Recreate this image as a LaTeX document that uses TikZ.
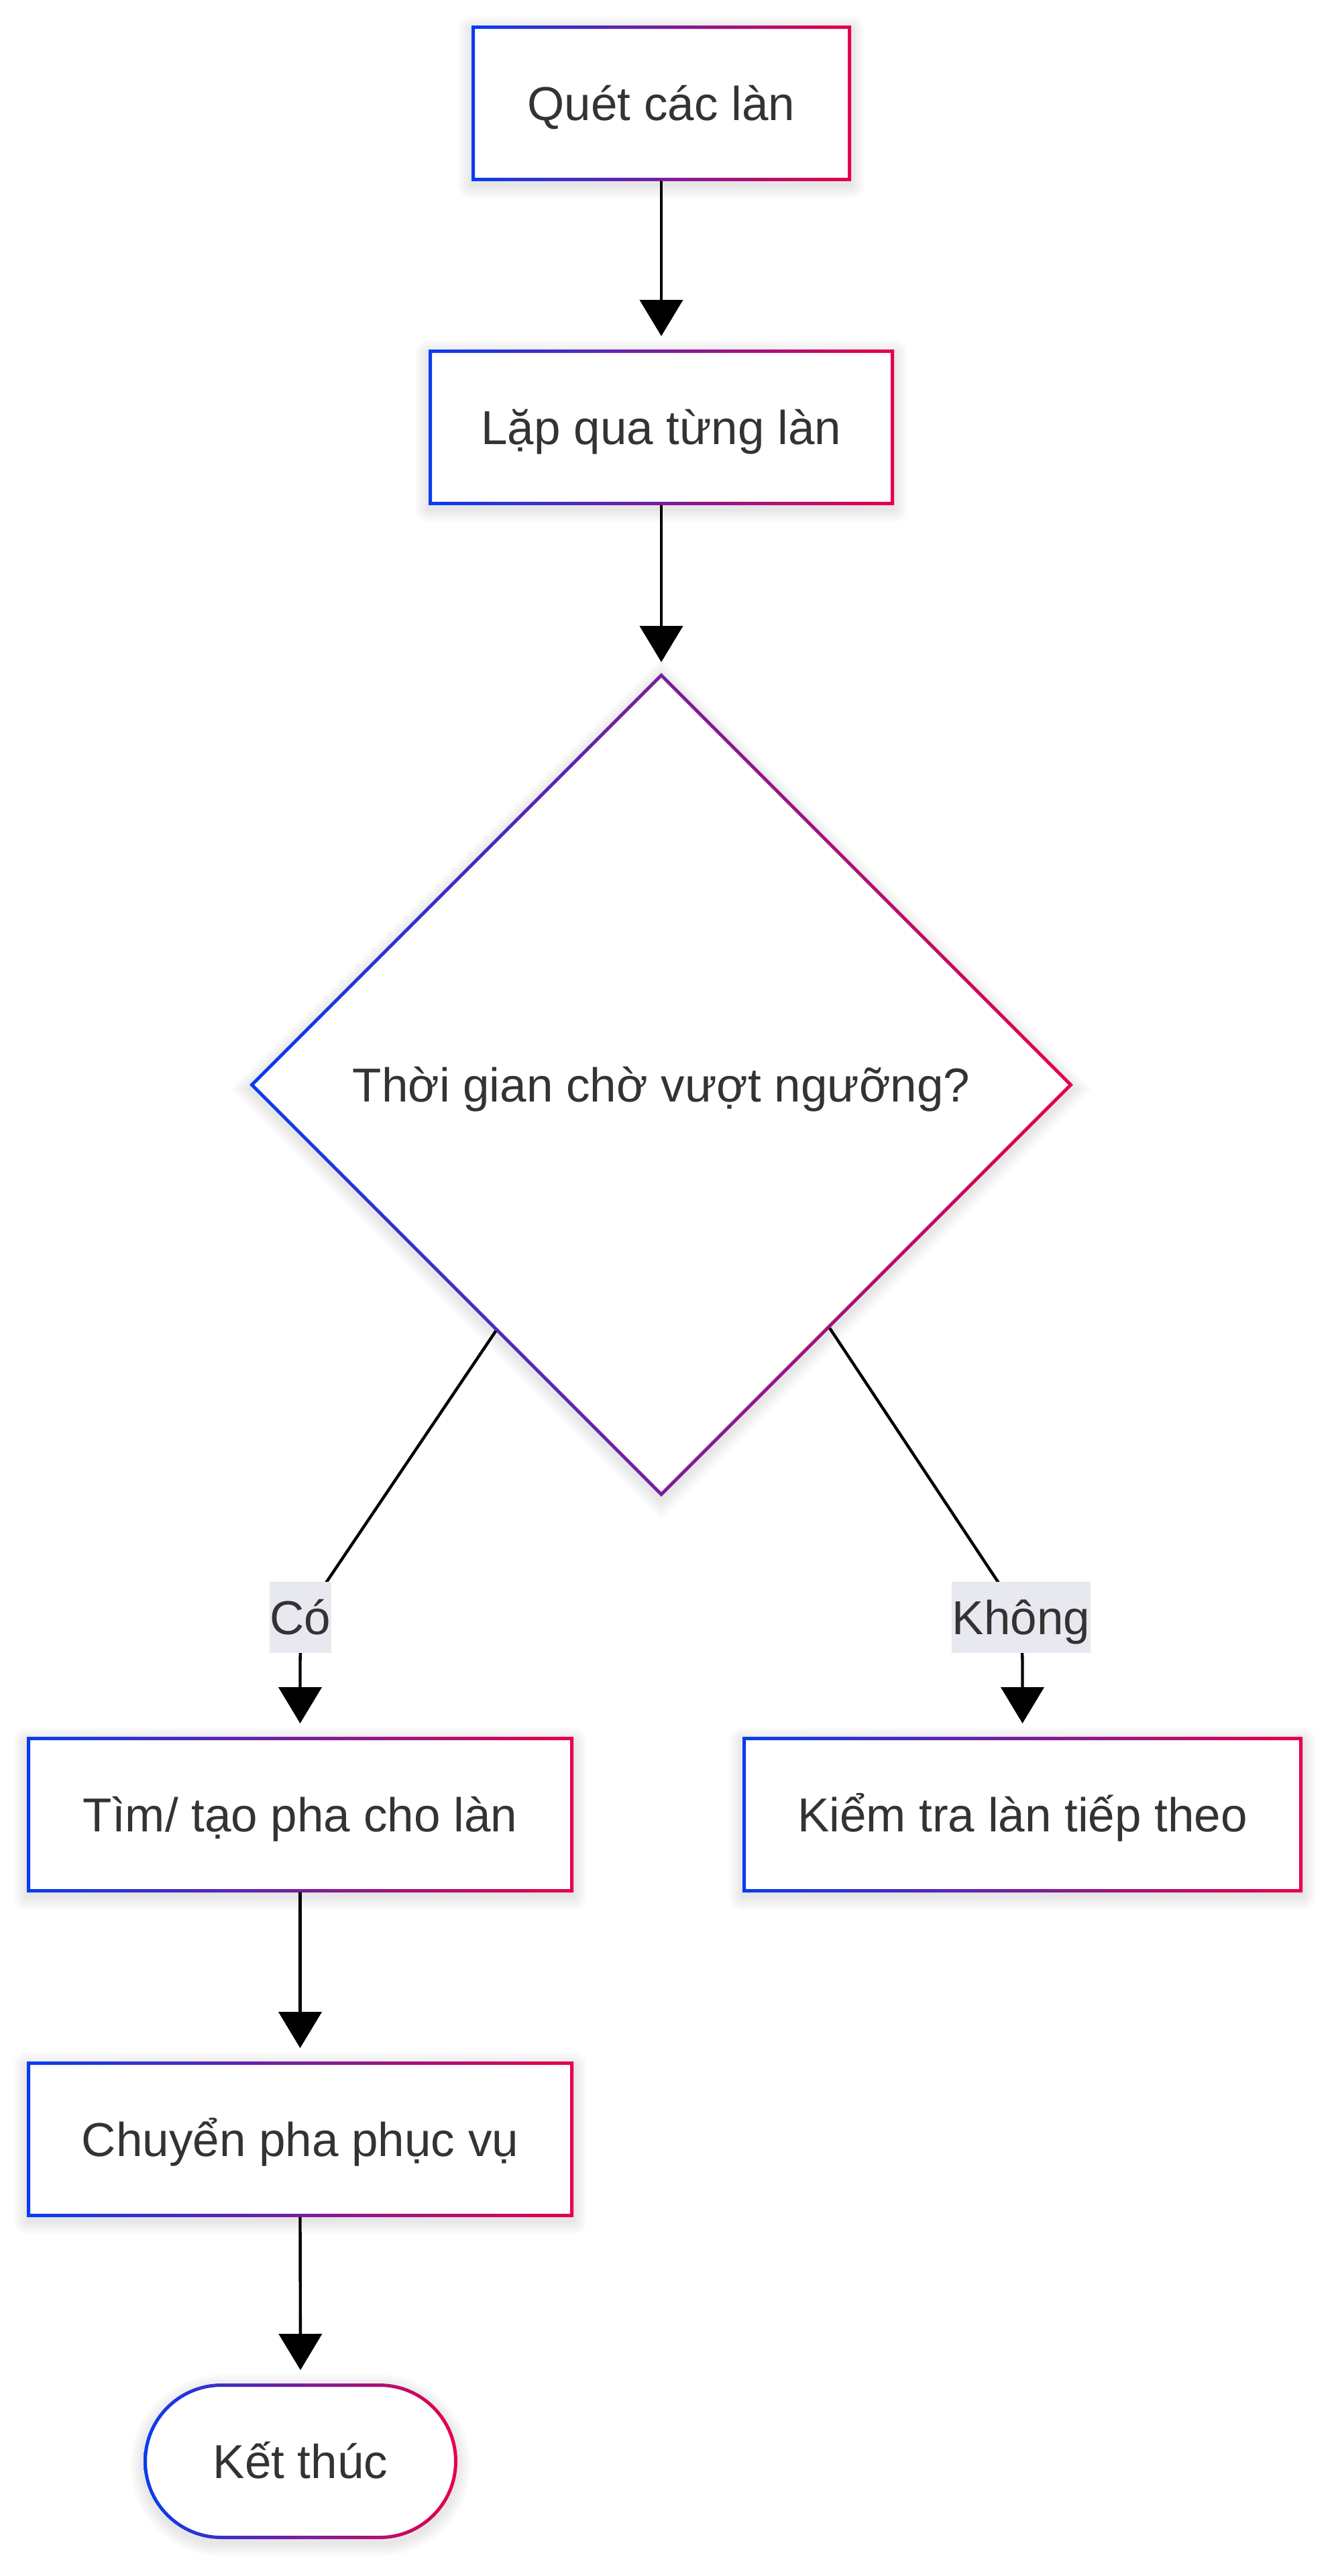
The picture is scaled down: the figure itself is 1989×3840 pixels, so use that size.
\documentclass[tikz,border=0pt]{standalone}
\usepackage{fontspec}
\setmainfont{Liberation Sans}
\usetikzlibrary{arrows.meta,shapes.geometric,calc}
\definecolor{cblue}{RGB}{8,60,240}
\definecolor{cred}{RGB}{232,0,72}
\definecolor{lblbg}{RGB}{232,232,240}
\definecolor{txtc}{RGB}{51,51,51}
\tikzset{
 txt/.style={inner sep=0pt, outer sep=0pt, text=txtc, font=\fontsize{35.5pt}{42pt}\selectfont, text height=25.4pt, text depth=0pt},
 gring/.style={left color=cblue, right color=cred, even odd rule},
 edge/.style={draw=black, line width=2.2pt, -{Triangle[width=32pt,length=27pt]}, shorten >=10pt},
 lbl/.style={txt, fill=lblbg, inner xsep=0.5pt, inner ysep=13.6pt},
 shd/.style={fill=black, opacity=0.012},
}
% rectangle box with gradient border and soft shadow
\newcommand\gbox[6]{%
 \foreach \k in {1,...,8}{\pgfmathsetmacro\rr{1.25*\k}%
  \fill[shd, rounded corners=\rr pt] ({#2-2.5*\k},{#3-2.5*\k+6}) rectangle ({#4+2.5*\k},{#5+2.5*\k+6});}
 \fill[white] (#2,#3) rectangle (#4,#5);
 \shade[gring] (#2,#3) rectangle (#4,#5) ({#2+5},{#3+5}) rectangle ({#4-5},{#5-5});
 \node[txt, minimum width={(#4-#2)*0.5pt}, minimum height={(#5-#3)*0.5pt}] (#1) at ({(#2+#4)/2},{(#3+#5)/2}) {#6};
}
% stadium
\newcommand\gstad[6]{%
 \foreach \k in {1,...,8}{\pgfmathsetmacro\rr{(116+2.5*\k)*0.5}%
  \fill[shd, rounded corners=\rr pt] ({#2-2.5*\k},{#3-2.5*\k+6}) rectangle ({#4+2.5*\k},{#5+2.5*\k+6});}
 \fill[white, rounded corners=58pt] (#2,#3) rectangle (#4,#5);
 \shade[gring] [rounded corners=58pt] (#2,#3) rectangle (#4,#5) [rounded corners=55.5pt] ({#2+5},{#3+5}) rectangle ({#4-5},{#5-5});
 \node[txt, minimum width={(#4-#2)*0.5pt}, minimum height={(#5-#3)*0.5pt}] (#1) at ({(#2+#4)/2},{(#3+#5)/2}) {#6};
}
\begin{document}
\begin{tikzpicture}[x=0.5pt,y=-0.5pt]
\useasboundingbox (0,0) rectangle (1989,3840);
\fill[white] (0,0) rectangle (1989,3840);

\gbox{n1}{703}{38}{1269}{270}{Quét các làn}
\gbox{n2}{639}{521}{1333}{753}{Lặp qua từng làn}

% decision diamond
\foreach \k in {1,...,8}{\pgfmathsetmacro\dd{614+3.5*\k}%
 \fill[shd] (986,{1623-\dd}) -- ({986+\dd},1623) -- (986,{1623+\dd}) -- ({986-\dd},1623) -- cycle;}
\fill[white] (986,1003) -- (1600,1617) -- (986,2231) -- (372,1617) -- cycle;
\shade[gring] (986,1003) -- (1600,1617) -- (986,2231) -- (372,1617) -- cycle
  (986,1010) -- (1593,1617) -- (986,2224) -- (379,1617) -- cycle;
\node[txt, diamond, aspect=1, minimum width=614pt, minimum height=614pt] (d) at (986,1617) {Thời gian chờ vượt ngưỡng?};

\gbox{n3}{40}{2589}{855}{2821}{Tìm/ tạo pha cho làn}
\gbox{n4}{1107}{2589}{1942}{2821}{Kiểm tra làn tiếp theo}
\gbox{n5}{40}{3073}{855}{3305}{Chuyển pha phục vụ}
\gstad{n6}{214}{3553}{682}{3785}{Kết thúc}

% connectors
\draw[edge] (n1.south) -- (n2.north);
\draw[edge, shorten >=8pt] (n2.south) -- (d.north);
\coordinate (a1) at ($(d.west)!0.598!(d.south)$);
\coordinate (a2) at (487,2358);
\coordinate (a3) at (447.5,2480);
\draw[edge] (a1) -- (a2) .. controls (455,2405) and (447.5,2440) .. (a3) -- (n3.north);
\coordinate (b1) at ($(d.east)!0.591!(d.south)$);
\coordinate (b2) at (1488,2358);
\coordinate (b3) at (1524.5,2480);
\draw[edge] (b1) -- (b2) .. controls (1518,2405) and (1524.5,2440) .. (b3) -- (n4.north);
\draw[edge] (n3.south) -- (n5.north);
\draw[edge] (n5.south) -- (n6.north);

% edge labels
\node[lbl] (lc) at (448,2411) {Có};
\node[lbl] (lk) at (1522.5,2411) {Không};
\end{tikzpicture}
\end{document}
